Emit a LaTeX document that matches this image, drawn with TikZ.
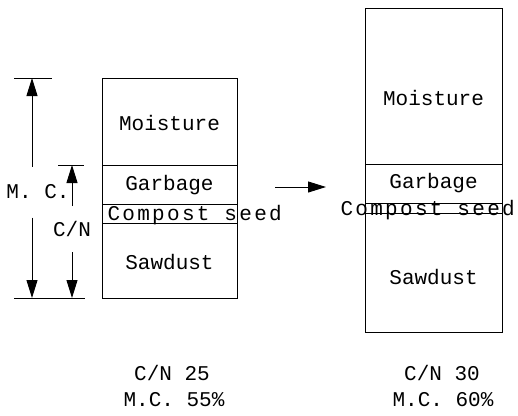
\documentclass[tikz,border=0pt]{standalone}
\usepackage{fontspec}
\setmonofont{Liberation Mono}
\usetikzlibrary{arrows.meta}

\begin{document}
\begin{tikzpicture}[x=1pt, y=-1pt, line width=1pt,
    every node/.style={font=\ttfamily\fontsize{21}{23}\selectfont, inner sep=0pt},
    seed/.style={anchor=base west, font=\ttfamily\fontsize{21}{23}\selectfont\addfontfeature{LetterSpace=11}},
    dim/.style={-{Triangle[length=18pt,width=11pt]}},
    gap/.style={minimum height=#1}]

    \useasboundingbox (0,0) rectangle (518,415);

    % left mixture
    \draw (102,78) rectangle (237,298);
    \draw (102,165) -- (237,165);
    \draw (102,204) -- (237,204);
    \draw (102,223) -- (237,223);
    \node (moistL) at (169.5,123) {Moisture};
    \node (garbL) at (169.5,185) {Garbage};
    \node [seed] (seedL) at (107,220) {Compost seed};
    \node (sawL) at (169.5,262) {Sawdust};

    % right mixture
    \draw (365,8) rectangle (502,332);
    \draw (365,164) -- (502,164);
    \draw (365,203) -- (502,203);
    \draw (365,213) -- (502,213);
    \node (moistR) at (433.5,98) {Moisture};
    \node (garbR) at (433.5,183) {Garbage};
    \node [seed] (seedR) at (340,215) {Compost seed};
    \node (sawR) at (433.5,277) {Sawdust};

    % dimension lines
    \draw (14,78) -- (52,78);
    \draw (14,298) -- (85,298);
    \draw (58,165) -- (84,165);
    \coordinate (mcTop) at (32,78);
    \coordinate (mcBot) at (32,298);
    \coordinate (cnTop) at (72,165);
    \coordinate (cnBot) at (72,298);
    \node [gap=50pt] (mc) at (38,192) {M. C.};
    \node [gap=45pt] (cn) at (72,229) {C/N};
    \draw [dim] (mc.north -| mcTop) -- (mcTop);
    \draw [dim] (mc.south -| mcBot) -- (mcBot);
    \draw [dim] (cn.north) -- (cnTop);
    \draw [dim] (cn.south) -- (cnBot);

    % change
    \coordinate (from) at (275,187);
    \coordinate (to) at (326,187);
    \draw [dim] (from) -- (to);

    \node (resL) at (172,373) {C/N 25};
    \node (mcL) at (174,400) {M.C. 55\%};
    \node (resR) at (442,373) {C/N 30};
    \node (mcR) at (443,400) {M.C. 60\%};

\end{tikzpicture}
\end{document}
